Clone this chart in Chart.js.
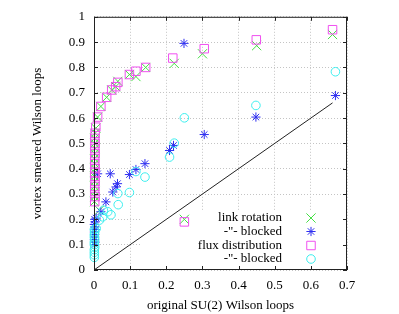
<!DOCTYPE html>
<html>
<head>
<meta charset="utf-8">
<script src="https://cdn.jsdelivr.net/npm/chart.js@4/dist/chart.umd.min.js"></script>
<style>
  html, body { margin: 0; padding: 0; background: #fff; }
  #wrap { width: 399px; height: 314px; }
</style>
</head>
<body>
<div id="wrap"><canvas id="c" width="399" height="314"></canvas></div>
<script>
const xTickLabels = ['0', '0.1', '0.2', '0.3', '0.4', '0.5', '0.6', '0.7'];
const yTickLabels = ['0', '0.1', '0.2', '0.3', '0.4', '0.5', '0.6', '0.7', '0.8', '0.9', '1'];
const seriesNames = ['link rotation', '-"- blocked', 'flux distribution', '-"- blocked'];

const linkRotX = [0.660, 0.450, 0.300, 0.222, 0.143, 0.116, 0.098, 0.066, 0.060, 0.049, 0.035, 0.019, 0.010, 0.005, 0.003,
  0.002, 0.002, 0.003, 0.002, 0.001, 0.002, 0.003, 0.002, 0.001, 0.002, 0.002, 0.003, 0.002, 0.001, 0.250, 0.015];
const linkRotY = [0.930, 0.886, 0.854, 0.816, 0.800, 0.764, 0.772, 0.745, 0.724, 0.711, 0.682, 0.646, 0.604, 0.560, 0.540,
  0.520, 0.500, 0.480, 0.460, 0.440, 0.420, 0.400, 0.385, 0.370, 0.350, 0.330, 0.310, 0.290, 0.270, 0.200, 0.236];

const blockedLinkX = [0.668, 0.448, 0.305, 0.249, 0.220, 0.209, 0.141, 0.116, 0.098, 0.045, 0.010, 0.065, 0.061, 0.052,
  0.033, 0.019, 0.006, 0.002, 0.003, 0.001, 0.002, 0.003, 0.001, 0.002, 0.002, 0.001, 0.003, 0.002];
const blockedLinkY = [0.689, 0.604, 0.535, 0.895, 0.492, 0.472, 0.420, 0.397, 0.377, 0.380, 0.380, 0.341, 0.328, 0.308,
  0.269, 0.230, 0.205, 0.200, 0.190, 0.180, 0.170, 0.160, 0.150, 0.140, 0.130, 0.120, 0.110, 0.100];

const fluxDistX = [0.660, 0.449, 0.305, 0.218, 0.143, 0.116, 0.098, 0.066, 0.060, 0.049, 0.035, 0.019, 0.010, 0.005, 0.003,
  0.002, 0.003, 0.002, 0.003, 0.002, 0.002, 0.003, 0.002, 0.002, 0.003, 0.002, 0.002, 0.003, 0.002, 0.250];
const fluxDistY = [0.949, 0.909, 0.874, 0.837, 0.800, 0.785, 0.772, 0.741, 0.724, 0.711, 0.682, 0.646, 0.604, 0.564, 0.540,
  0.520, 0.500, 0.480, 0.460, 0.440, 0.420, 0.400, 0.385, 0.370, 0.350, 0.330, 0.310, 0.290, 0.270, 0.190];

const blockedFluxX = [0.668, 0.448, 0.250, 0.222, 0.209, 0.141, 0.116, 0.098, 0.066, 0.067, 0.047, 0.038, 0.026, 0.024,
  0.015, 0.006, 0.001, 0.002, 0.001, 0.001, 0.002, 0.001, 0.001, 0.002, 0.001, 0.001, 0.001, 0.001];
const blockedFluxY = [0.783, 0.650, 0.601, 0.501, 0.446, 0.367, 0.389, 0.306, 0.302, 0.258, 0.218, 0.230, 0.236, 0.210,
  0.197, 0.164, 0.160, 0.150, 0.140, 0.130, 0.120, 0.110, 0.100, 0.090, 0.080, 0.070, 0.060, 0.050];

const diagX = [0, 0.66];
const diagY = [0, 0.66];

function pts(xs, ys) { return xs.map((x, i) => ({ x: x, y: ys[i] })); }

const FONT = "'Liberation Serif', 'Times New Roman', serif";
const styles = [
  { color: '#44e044', pointStyle: 'crossRot', radius: 6.5 },
  { color: '#2f2ff0', pointStyle: 'star', radius: 4.6 },
  { color: '#f050f0', pointStyle: 'rect', radius: 6.0 },
  { color: '#3ceeee', pointStyle: 'circle', radius: 4.3 }
];

function drawSym(ctx, st, x, y) {
  if (window.Chart && Chart.helpers && Chart.helpers.drawPoint) {
    ctx.save();
    ctx.strokeStyle = st.color; ctx.fillStyle = 'rgba(0,0,0,0)'; ctx.lineWidth = 1;
    Chart.helpers.drawPoint(ctx, { pointStyle: st.pointStyle, radius: st.radius, rotation: 0, borderWidth: 1 }, x, y);
    ctx.restore();
  }
}

const gnuplotLook = {
  id: 'gnuplotLook',
  beforeDatasetsDraw(chart) {
    const { ctx, chartArea: a } = chart;
    ctx.save();
    ctx.fillStyle = '#ffffff';
    ctx.fillRect(a.right - 205, a.bottom - 60, 205, 60);
    ctx.restore();
  },
  afterDatasetsDraw(chart) {
    const { ctx, chartArea: a, scales } = chart;
    ctx.save();
    ctx.strokeStyle = '#222';
    ctx.lineWidth = 1;
    ctx.strokeRect(a.left + 0.5, a.top + 0.5, a.right - a.left - 1, a.bottom - a.top - 1);
    const tl = 4;
    ctx.beginPath();
    scales.x.ticks.forEach(t => {
      const p = Math.round(scales.x.getPixelForValue(t.value)) + 0.5;
      ctx.moveTo(p, a.bottom); ctx.lineTo(p, a.bottom - tl);
      ctx.moveTo(p, a.top); ctx.lineTo(p, a.top + tl);
    });
    scales.y.ticks.forEach(t => {
      const p = Math.round(scales.y.getPixelForValue(t.value)) + 0.5;
      ctx.moveTo(a.left, p); ctx.lineTo(a.left + tl, p);
      ctx.moveTo(a.right, p); ctx.lineTo(a.right - tl, p);
    });
    ctx.stroke();
    // key
    ctx.font = '13px ' + FONT;
    ctx.fillStyle = '#000';
    ctx.textAlign = 'right';
    ctx.textBaseline = 'middle';
    const rows = [52, 38.5, 24.5, 11];
    seriesNames.forEach((name, i) => {
      const y = a.bottom - rows[i];
      ctx.fillText(name, a.right - 65, y);
      drawSym(ctx, styles[i], a.right - 36, y);
    });
    ctx.restore();
  }
};

const sets = [
  [linkRotX, linkRotY], [blockedLinkX, blockedLinkY], [fluxDistX, fluxDistY], [blockedFluxX, blockedFluxY]
];
const datasets = sets.map((s, i) => ({
  label: seriesNames[i],
  data: pts(s[0], s[1]),
  showLine: false,
  pointStyle: styles[i].pointStyle,
  pointRadius: styles[i].radius,
  pointHoverRadius: styles[i].radius,
  pointBorderColor: styles[i].color,
  pointBackgroundColor: 'rgba(0,0,0,0)',
  pointBorderWidth: 1,
  clip: false,
  order: 4 - i
}));
datasets.push({
  label: 'diag',
  data: pts(diagX, diagY),
  showLine: true,
  borderColor: '#222',
  borderWidth: 1,
  pointRadius: 0,
  fill: false,
  order: 10
});

new Chart(document.getElementById('c'), {
  type: 'scatter',
  data: { datasets: datasets },
  options: {
    responsive: false,
    animation: false,
    events: [],
    layout: { padding: { top: 16, right: 52, left: 0, bottom: 0 } },
    plugins: { legend: { display: false }, tooltip: { enabled: false } },
    scales: {
      x: {
        type: 'linear', min: 0, max: 0.7,
        afterFit: s => { s.height = 44; },
        ticks: {
          stepSize: 0.1, padding: 8, color: '#000', font: { family: FONT, size: 13 },
          maxRotation: 0,
          callback: v => xTickLabels[Math.round(v * 10)]
        },
        grid: { color: '#c4c4c4', lineWidth: 1, drawTicks: false },
        border: { display: false, dash: [1, 2] },
        title: { display: true, text: 'original SU(2) Wilson loops', color: '#000',
                 font: { family: FONT, size: 13 }, padding: { top: 0, bottom: 1 } }
      },
      y: {
        type: 'linear', min: 0, max: 1,
        afterFit: s => { s.width = 94; },
        ticks: {
          stepSize: 0.1, padding: 9, color: '#000', font: { family: FONT, size: 13 },
          callback: v => yTickLabels[Math.round(v * 10)]
        },
        grid: { color: '#c4c4c4', lineWidth: 1, drawTicks: false },
        border: { display: false, dash: [1, 2] },
        title: { display: true, text: 'vortex smeared Wilson loops', color: '#000',
                 font: { family: FONT, size: 13 }, padding: { top: 30, bottom: 0 } }
      }
    }
  },
  plugins: [gnuplotLook]
});
</script>
</body>
</html>
